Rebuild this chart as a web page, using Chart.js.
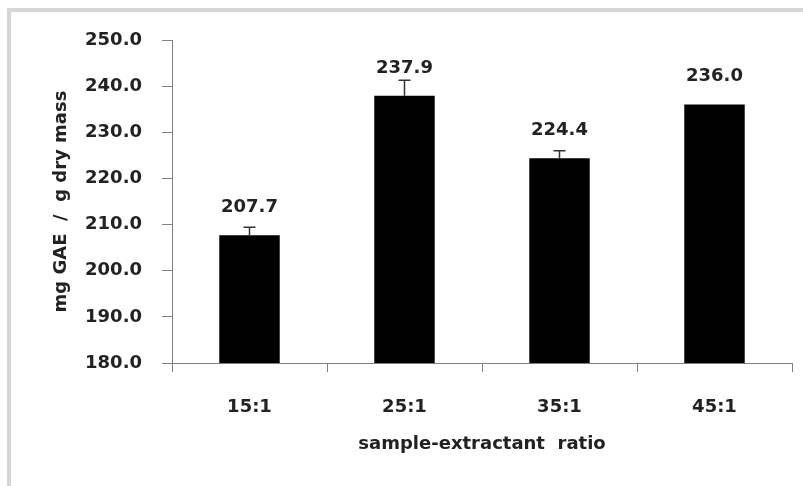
<!DOCTYPE html>
<html>
<head>
<meta charset="utf-8">
<script src="https://cdn.jsdelivr.net/npm/chart.js@4/dist/chart.umd.min.js"></script>
<style>
  html, body { margin: 0; padding: 0; background: #fff; overflow: hidden; }
  #wrap { position: relative; width: 803px; height: 486px; }
  #frame { position: absolute; left: 7px; top: 8px; width: 900px; height: 600px;
           border: 4px solid #d6d6d6; box-sizing: border-box; }
  canvas { position: absolute; left: 0; top: 0; }
</style>
</head>
<body>
<div id="wrap">
  <div id="frame"></div>
  <canvas id="ratioChart" width="803" height="486"></canvas>
</div>
<script>
const ratios = ["15:1", "25:1", "35:1", "45:1"];
const phenolics = [207.7, 237.9, 224.4, 236.0]; // mg GAE / g dry mass
const errors = [1.7, 3.4, 1.6, 0];
const yTicks = [180, 190, 200, 210, 220, 230, 240, 250];

const textFont = { family: "'DejaVu Sans', sans-serif", size: 18, weight: "bold" };
const textColor = "#222";
const axisColor = "#808080";

// little T-shaped error bars on top of each bar
const errorBars = {
  id: "errorBars",
  afterDatasetsDraw(chart) {
    const ctx = chart.ctx;
    const y = chart.scales.y;
    const meta = chart.getDatasetMeta(0);
    ctx.save();
    ctx.strokeStyle = "#333";
    ctx.lineWidth = 1.5;
    meta.data.forEach((bar, i) => {
      if (!errors[i]) return;
      const top = y.getPixelForValue(phenolics[i] + errors[i]);
      const base = y.getPixelForValue(phenolics[i]);
      ctx.beginPath();
      ctx.moveTo(bar.x, base);
      ctx.lineTo(bar.x, top);
      ctx.moveTo(bar.x - 6, top);
      ctx.lineTo(bar.x + 6, top);
      ctx.stroke();
    });
    ctx.restore();
  }
};

// value labels above bars
const valueLabels = {
  id: "valueLabels",
  afterDatasetsDraw(chart) {
    const ctx = chart.ctx;
    const meta = chart.getDatasetMeta(0);
    ctx.save();
    ctx.font = `${textFont.weight} ${textFont.size}px ${textFont.family}`;
    ctx.fillStyle = textColor;
    ctx.textAlign = "center";
    ctx.textBaseline = "middle";
    meta.data.forEach((bar, i) => {
      ctx.fillText(phenolics[i].toFixed(1), bar.x, bar.y - 28);
    });
    ctx.restore();
  }
};

new Chart(document.getElementById("ratioChart"), {
  type: "bar",
  data: {
    labels: ratios,
    datasets: [{
      data: phenolics,
      backgroundColor: "#000",
      borderWidth: 0,
      categoryPercentage: 1,
      barPercentage: 0.39
    }]
  },
  options: {
    responsive: false,
    animation: false,
    layout: { padding: { top: 40, right: 11, left: 0, bottom: 0 } },
    plugins: {
      legend: { display: false },
      tooltip: { enabled: false }
    },
    scales: {
      x: {
        afterFit(scale) { scale.height = 123; },
        grid: { offset: true, drawOnChartArea: false, tickLength: 9, color: axisColor },
        border: { color: axisColor, width: 1 },
        ticks: { font: textFont, color: textColor, padding: 25 },
        title: {
          display: true,
          text: "sample-extractant  ratio",
          font: textFont,
          color: textColor,
          padding: { top: 0, bottom: 31 }
        }
      },
      y: {
        min: yTicks[0],
        max: yTicks[yTicks.length - 1],
        afterFit(scale) { scale.width = 172; },
        afterBuildTicks(scale) { scale.ticks = yTicks.map(v => ({ value: v })); },
        grid: { drawOnChartArea: false, tickLength: 10, color: axisColor },
        border: { color: axisColor, width: 1 },
        ticks: {
          font: textFont,
          color: textColor,
          padding: 20,
          callback: v => Number(v).toFixed(1)
        },
        title: {
          display: true,
          text: "mg GAE  /  g dry mass",
          font: textFont,
          color: textColor,
          padding: { top: 51, bottom: 0 }
        }
      }
    }
  },
  plugins: [errorBars, valueLabels]
});
</script>
</body>
</html>
